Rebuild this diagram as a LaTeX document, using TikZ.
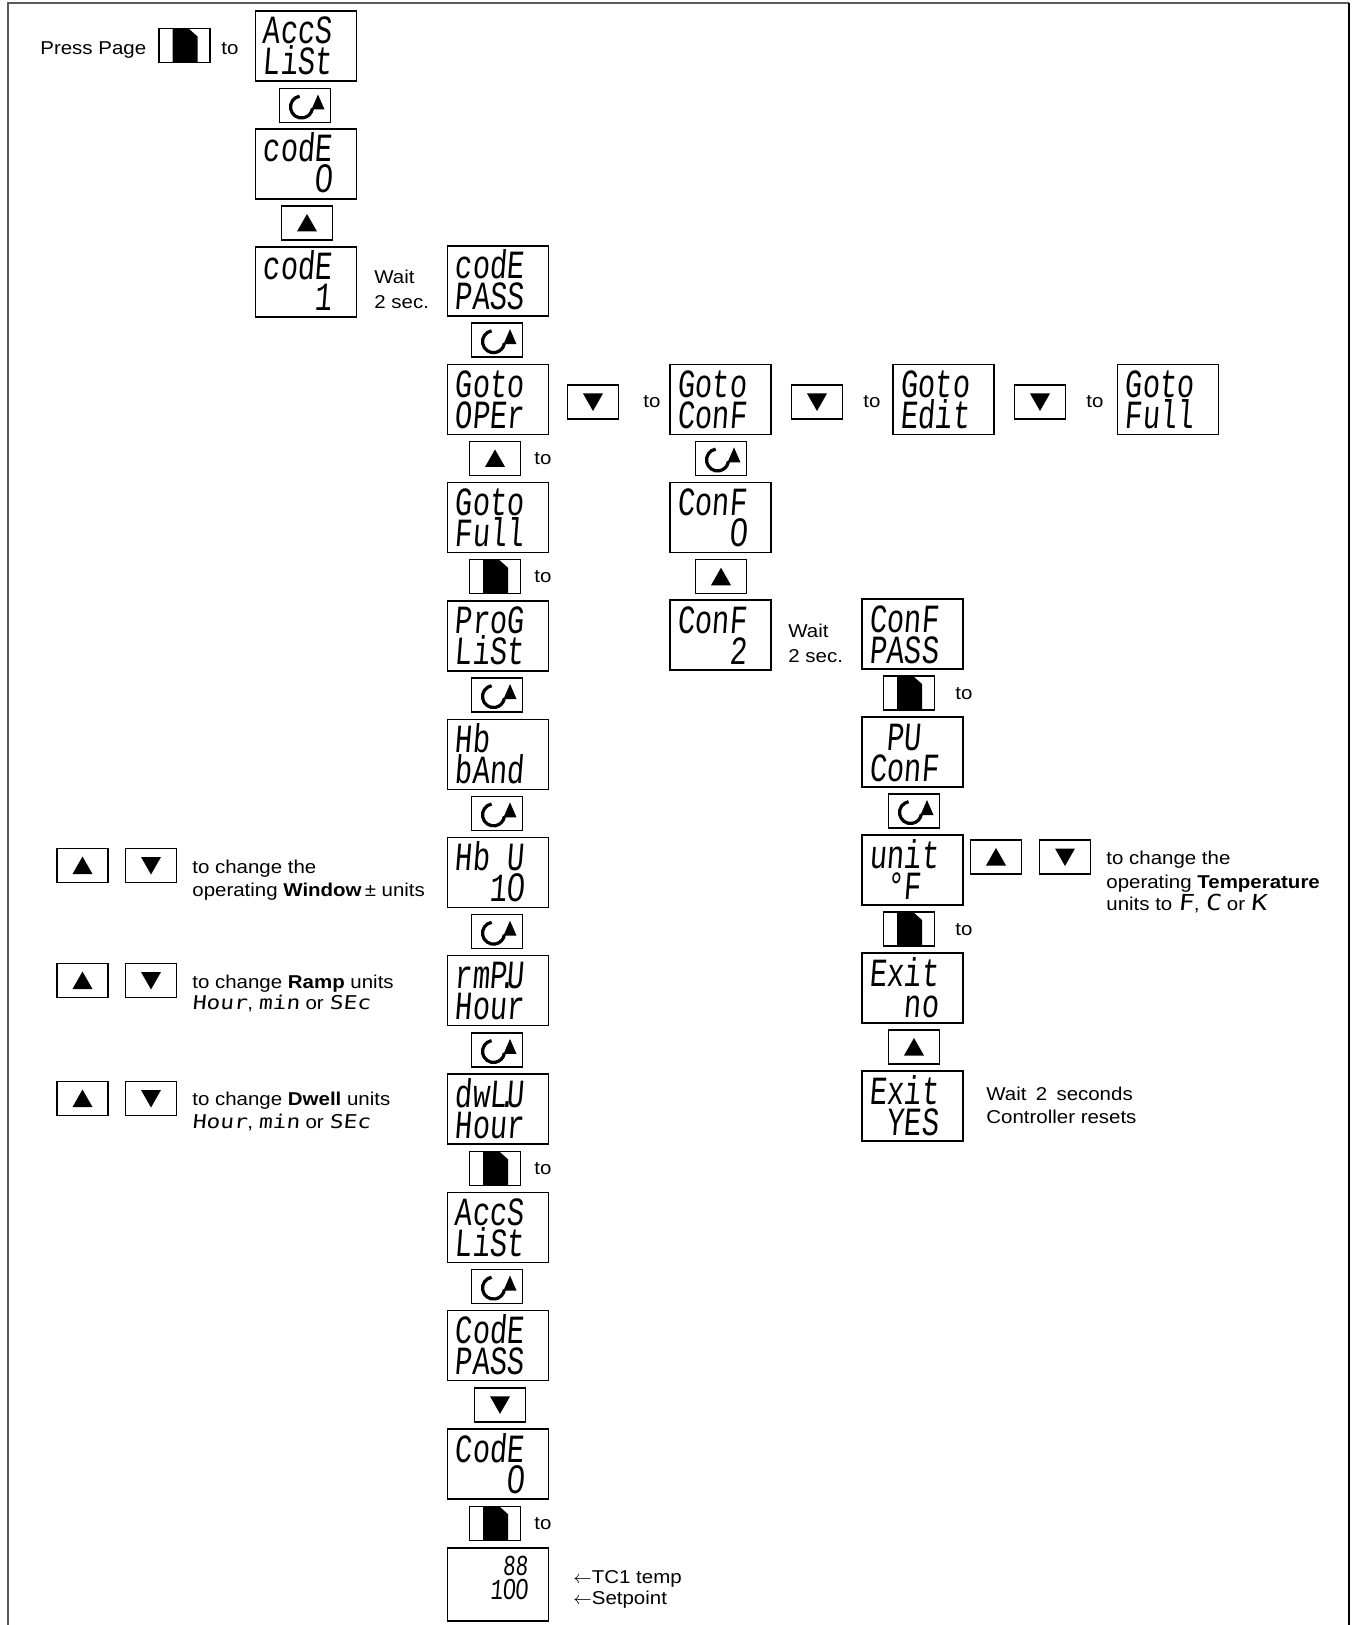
\documentclass[tikz,border=0pt]{standalone}
\usepackage{fontspec}
\setmainfont{Liberation Sans}[FakeStretch=1.1]
\newfontfamily\segf{Liberation Mono}[FakeStretch=0.72,FakeSlant=0.08]
\newfontfamily\segz{Liberation Sans}[FakeStretch=0.8,FakeSlant=0.08]
\newfontfamily\segg{DejaVu Sans Mono}[FakeStretch=1.2,FakeSlant=0.1]
\newcommand\cellsp{\phantom{0}}
\newcommand\zr{\makebox[\fontcharwd\font`0][c]{\segz 0}}
\newcommand\segin[1]{{\segg\fontsize{9.5}{9.5}\selectfont #1}}
\newcommand\segbig[1]{{\segg\fontsize{11}{11}\selectfont #1}}
\newcommand\dotp{\makebox[0pt]{.}}
\usetikzlibrary{arrows.meta}
\tikzset{
  disp/.style={draw, line width=0.65pt, minimum width=50.5pt, minimum height=35pt, inner sep=0pt},
  btn/.style={draw, line width=0.65pt, fill=white, minimum width=25.5pt, minimum height=17pt, inner sep=0pt},
  segl/.style={inner sep=0pt, anchor=base west, font=\segf\fontsize{20}{20}\selectfont},
  segs/.style={inner sep=0pt, anchor=base east, font=\segf\fontsize{14.5}{14.5}\selectfont},
  txt/.style={inner sep=0pt, anchor=base west, font=\fontsize{9.3}{11.5}\selectfont},
  totxt/.style={inner sep=0pt, anchor=base, font=\fontsize{9.3}{11.5}\selectfont},
  pics/upb/.style={code={\node[btn] (-b) at (0,0) {}; \fill (-10,8.5) -- (10,8.5) -- (0,-9) -- cycle;}},
  pics/dnb/.style={code={\node[btn] (-b) at (0,0) {}; \fill (-10,-8.5) -- (10,-8.5) -- (0,9) -- cycle;}},
  pics/rotb/.style={code={\node[btn] (-b) at (0,0) {};
     \draw[line width=1.6pt] (-3.5,1.5) ++(-100:11) arc[start angle=-100,end angle=-352,radius=11];
     \fill (6.5,4) -- (19.5,4) -- (13,-11) -- cycle;}},
  pics/pgb/.style={code={\node[btn] (-b) at (0,0) {};
     \fill (-12,-17) -- (4,-17) -- (13,-9) -- (13,17) -- (-12,17) -- cycle;
     \draw[line width=0.65pt] (-25.5,-17) rectangle (25.5,17);}},
}
\newcommand\disp[5]{%
  \node[disp] (#1) at (#2,#3) {};
  \node[segl] (#1-t) at (#2-43.5,#3-2) {\rlap{\raisebox{-15.5pt}{#5}}#4};
}
\begin{document}
\begin{tikzpicture}[x=0.5pt,y=-0.5pt]
\useasboundingbox (0,0) rectangle (1351,1625);
% frame
\draw[line width=1pt, black!65] (8,1625) -- (8,3.5) -- (1349,3.5);
\draw[line width=0.75pt] (1349,3.5) -- (1349,1625);

% ---------- top row / column A ----------
\node[txt] (press) at (40,55) {Press Page};
\pic (pg0) at (184.5,45.5) {pgb};
\node[totxt] (to0) at (230,55) {to};
\disp{a1}{306}{46}{AccS}{LiSt}
\pic (r1) at (305,105.5) {rotb};
\disp{a2}{306}{164}{codE}{\cellsp\cellsp\cellsp\zr}
\pic (u1) at (307,223) {upb};
\disp{a3}{306}{282}{codE}{\cellsp\cellsp\cellsp1}
\node[txt] (w1a) at (374,284) {Wait};
\node[txt] (w1b) at (374,308.5) {2 sec.};

% ---------- column B ----------
\disp{b0}{498}{281}{codE}{PASS}
\pic (r2) at (497,340.15) {rotb};
\disp{b2}{498}{399.3}{Goto}{OPEr}
\pic (u2) at (495,458.45) {upb};
\node[totxt] (to1) at (543,464.45) {to};
\disp{b4}{498}{517.6}{Goto}{Full}
\pic (pg1) at (495,576.75) {pgb};
\node[totxt] (to2) at (543,582.75) {to};
\disp{b6}{498}{635.9}{ProG}{LiSt}
\pic (r3) at (497,695.05) {rotb};
\disp{b8}{498}{754.2}{Hb\cellsp\cellsp}{bAnd}
\pic (r4) at (497,813.35) {rotb};
\disp{b10}{498}{872.5}{Hb\cellsp U}{\cellsp\cellsp1\zr}
\pic (r5) at (497,931.65) {rotb};
\disp{b12}{498}{990.8}{rmP\dotp U}{Hour}
\pic (r6) at (497,1049.95) {rotb};
\disp{b14}{498}{1109.1}{dwL\dotp U}{Hour}
\pic (pg2) at (495,1168.25) {pgb};
\node[totxt] (to3) at (543,1174.25) {to};
\disp{b16}{498}{1227.4}{AccS}{LiSt}
\pic (r7) at (497,1286.55) {rotb};
\disp{b18}{498}{1345.7}{CodE}{PASS}
\pic (d1) at (500,1404.85) {dnb};
\disp{b20}{498}{1464}{CodE}{\cellsp\cellsp\cellsp\zr}
\pic (pg3) at (495,1523.15) {pgb};
\node[totxt] (to4) at (543,1529.15) {to};
\node[disp, minimum height=36.5pt] (b22) at (498,1584.5) {};
\node[segs] (b22-t) at (528,1575) {88\llap{\raisebox{-12pt}{1\zr\zr}}};
\node[txt] (tc1) at (573,1583) {$\leftarrow$TC1 temp};
\node[txt] (tc2) at (573,1604) {$\leftarrow$Setpoint};

% ---------- Goto row ----------
\pic (d2) at (593,402) {dnb};
\node[totxt] (to5) at (652,408) {to};
\disp{g1}{720.5}{399.3}{Goto}{ConF}
\pic (d3) at (817,402) {dnb};
\node[totxt] (to6) at (872,408) {to};
\disp{g2}{943.5}{399.3}{Goto}{Edit}
\pic (d4) at (1040,402) {dnb};
\node[totxt] (to7) at (1095,408) {to};
\disp{g3}{1168}{399.3}{Goto}{Full}

% ---------- column C ----------
\pic (r8) at (721,458.45) {rotb};
\disp{c1}{720.5}{517.6}{ConF}{\cellsp\cellsp\cellsp\zr}
\pic (u3) at (721,576.75) {upb};
\disp{c2}{720.5}{635}{ConF}{\cellsp\cellsp\cellsp2}
\node[txt] (w2a) at (788,637) {Wait};
\node[txt] (w2b) at (788,662) {2 sec.};

% ---------- column D ----------
\disp{e1}{912.5}{634}{ConF}{PASS}
\pic (pg4) at (909,693) {pgb};
\node[totxt] (to8) at (964,699) {to};
\disp{e2}{912.5}{752}{\cellsp PU\cellsp}{ConF}
\pic (r9) at (914,811) {rotb};
\disp{e3}{912.5}{870}{unit}{\cellsp°F\cellsp}
\pic (u4) at (996,857) {upb};
\pic (d5) at (1065,857) {dnb};
\node[txt] (tt1) at (1106,864) {to change the};
\node[txt] (tt2) at (1106,888) {operating \textbf{Temperature}};
\node[txt] (tt3) at (1106,910) {units to \segbig{F}, \segbig{C} or \segbig{K}};
\pic (pg5) at (909,929) {pgb};
\node[totxt] (to9) at (964,935) {to};
\disp{e4}{912.5}{988}{Exit}{\cellsp\cellsp no}
\pic (u5) at (914,1047) {upb};
\disp{e5}{912.5}{1106}{Exit}{\cellsp YES}
\node[txt] (x1) at (986,1100) {Wait\enspace 2\enspace seconds};
\node[txt] (x2) at (986,1123) {Controller resets};

% ---------- left legend ----------
\pic (lu1) at (82.5,865.5) {upb};
\pic (ld1) at (151,865.5) {dnb};
\node[txt] (l1a) at (192,873) {to change the};
\node[txt] (l1b) at (192,896) {operating \textbf{Window}\,± units};
\pic (lu2) at (82.5,980.5) {upb};
\pic (ld2) at (151,980.5) {dnb};
\node[txt] (l2a) at (192,988) {to change \textbf{Ramp} units};
\node[txt] (l2b) at (192,1009) {\segin{Hour}, \segin{min} or \segin{SEc}};
\pic (lu3) at (82.5,1098.5) {upb};
\pic (ld3) at (151,1098.5) {dnb};
\node[txt] (l3a) at (192,1105) {to change \textbf{Dwell} units};
\node[txt] (l3b) at (192,1128) {\segin{Hour}, \segin{min} or \segin{SEc}};
\end{tikzpicture}
\end{document}
